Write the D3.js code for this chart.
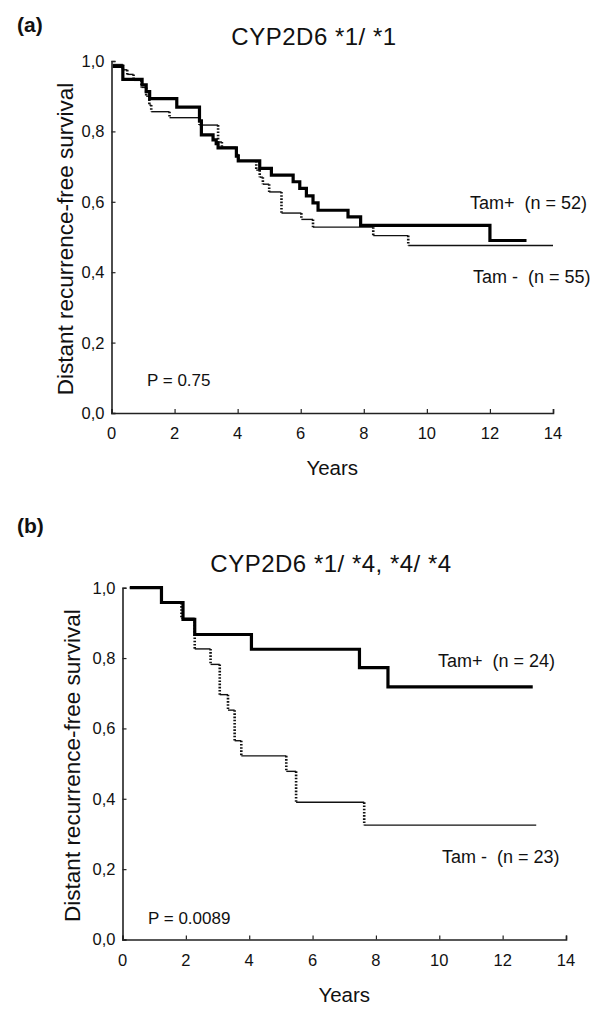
<!DOCTYPE html>
<html><head><meta charset="utf-8">
<script src="https://cdn.jsdelivr.net/npm/d3@7"></script>
<style>
html,body{margin:0;padding:0;background:#fff;}
text{font-family:Arial,"Liberation Sans",Helvetica,sans-serif;fill:#111;white-space:pre;}
</style></head>
<body><svg id="chart" width="600" height="1020"></svg>
<script>
// ---- data ----
const yearTicks = [0, 2, 4, 6, 8, 10, 12, 14];
const survTicks = [0, 0.2, 0.4, 0.6, 0.8, 1.0];
const survTickLabels = ["0,0", "0,2", "0,4", "0,6", "0,8", "1,0"];

// Panel (a) CYP2D6 *1/ *1 : [years, survival]
const tamPlusA = [[0.04,0.985],[0.36,0.948],[0.97,0.932],[1.1,0.913],[1.21,0.893],[2.07,0.869],[2.79,0.83],[2.85,0.79],[3.22,0.776],[3.32,0.765],[3.38,0.753],[3.96,0.73],[4.02,0.716],[4.70,0.695],[5.07,0.676],[5.76,0.657],[5.97,0.638],[6.18,0.617],[6.39,0.597],[6.55,0.576],[7.5,0.557],[7.9,0.533],[12.0,0.490],[13.16,0.490]];
const tamMinusA = [[0.04,0.99],[0.36,0.975],[0.5,0.962],[0.7,0.945],[0.95,0.925],[1.1,0.9],[1.2,0.875],[1.26,0.856],[1.84,0.839],[2.79,0.818],[3.38,0.77],[3.5,0.755],[3.96,0.735],[4.02,0.716],[4.59,0.69],[4.7,0.67],[4.8,0.65],[5.0,0.628],[5.39,0.568],[6.02,0.55],[6.39,0.528],[8.3,0.504],[9.41,0.476],[14.0,0.476]];

// Panel (b) CYP2D6 *1/ *4, *4/ *4
const tamPlusB = [[0.23,1.0],[1.23,0.958],[1.91,0.91],[2.28,0.867],[4.07,0.825],[7.48,0.773],[8.38,0.718],[12.95,0.718]];
const tamMinusB = [[0.23,1.0],[1.23,0.957],[1.86,0.913],[2.28,0.826],[2.78,0.782],[3.07,0.696],[3.33,0.652],[3.54,0.565],[3.75,0.522],[5.17,0.478],[5.48,0.39],[7.63,0.325],[13.06,0.325]];

const titles = ["CYP2D6 *1/ *1", "CYP2D6 *1/ *4, *4/ *4"];
const panelTags = ["(a)", "(b)"];
const pValues = ["P = 0.75", "P = 0.0089"];
const plusLabels = ["Tam+  (n = 52)", "Tam+  (n = 24)"];
const minusLabels = ["Tam -  (n = 55)", "Tam -  (n = 23)"];

// ---- layout ----
const panels = [
  {left:111.5, right:553, top:61, bottom:413, plus:tamPlusA, minus:tamMinusA,
   tagY:32, titleX:314, titleY:45, ylabX:73, pX:147, pY:386,
   plusX:470, plusY:209, minusX:473, minusY:283},
  {left:122.5, right:566, top:587.7, bottom:939.5, plus:tamPlusB, minus:tamMinusB,
   tagY:533, titleX:331, titleY:572, ylabX:80, pX:148, pY:924,
   plusX:438, plusY:667, minusX:442, minusY:863}
];

const svg = d3.select("#chart");

panels.forEach((p, i) => {
  const x = d3.scaleLinear().domain([0, 14]).range([p.left, p.right]);
  const y = d3.scaleLinear().domain([0, 1]).range([p.bottom, p.top]);
  const g = svg.append("g");

  // axes
  const xa = g.append("g").attr("transform", `translate(0,${p.bottom})`)
    .call(d3.axisTop(x).tickValues(yearTicks).tickSize(4).tickFormat(""));
  const ya = g.append("g").attr("transform", `translate(${p.left},0)`)
    .call(d3.axisRight(y).tickValues(survTicks).tickSize(4).tickFormat(""));
  [xa, ya].forEach(a => {
    a.select(".domain").attr("stroke", "#222").attr("stroke-width", 1.6);
    a.selectAll(".tick line").attr("stroke", "#222").attr("stroke-width", 1.2);
  });
  // tick labels
  g.selectAll(".xl").data(yearTicks).join("text")
    .attr("x", d => x(d)).attr("y", p.bottom + 26)
    .attr("text-anchor", "middle").attr("font-size", 16.5).text(d => d);
  g.selectAll(".yl").data(survTicks).join("text")
    .attr("x", p.left - 7).attr("y", d => y(d)).attr("dy", "0.36em")
    .attr("text-anchor", "end").attr("font-size", 16.5)
    .text((d, k) => survTickLabels[k]);

  // axis titles
  g.append("text").attr("x", (p.left + p.right) / 2).attr("y", p.bottom + 62)
    .attr("text-anchor", "middle").attr("font-size", 20.5).text("Years");
  g.append("text")
    .attr("transform", `translate(${p.ylabX},${(p.top + p.bottom) / 2 + 2}) rotate(-90)`)
    .attr("text-anchor", "middle").attr("font-size", 22.5)
    .text("Distant recurrence-free survival");

  // titles
  g.append("text").attr("x", 17).attr("y", p.tagY).attr("font-size", 21)
    .attr("font-weight", "bold").text(panelTags[i]);
  g.append("text").attr("x", p.titleX).attr("y", p.titleY).attr("text-anchor", "middle")
    .attr("font-size", 24).attr("letter-spacing", 0.5).text(titles[i]);

  // annotations
  g.append("text").attr("x", p.pX).attr("y", p.pY).attr("font-size", 17).text(pValues[i]);
  g.append("text").attr("x", p.plusX).attr("y", p.plusY).attr("font-size", 18).text(plusLabels[i]);
  g.append("text").attr("x", p.minusX).attr("y", p.minusY).attr("font-size", 18).text(minusLabels[i]);

  // Tam- : thin horizontals, dotted verticals
  const m = p.minus;
  const hSeg = m.slice(0, -1).map((d, k) => [d[0], m[k + 1][0], d[1]]);
  const vSeg = m.slice(1, -1).map((d, k) => [d[0], m[k][1], d[1]]);
  g.selectAll(".mh").data(hSeg).join("line")
    .attr("x1", d => x(d[0])).attr("x2", d => x(d[1]))
    .attr("y1", d => y(d[2])).attr("y2", d => y(d[2]))
    .attr("stroke", "#111").attr("stroke-width", 1.4);
  g.selectAll(".mv").data(vSeg).join("line")
    .attr("x1", d => x(d[0])).attr("x2", d => x(d[0]))
    .attr("y1", d => y(d[1])).attr("y2", d => y(d[2]))
    .attr("stroke", "#111").attr("stroke-width", 2.6).attr("stroke-dasharray", "1.6,1.6");

  // Tam+ : thick step line
  const line = d3.line().x(d => x(d[0])).y(d => y(d[1])).curve(d3.curveStepAfter);
  g.append("path").datum(p.plus).attr("d", line)
    .attr("fill", "none").attr("stroke", "#000").attr("stroke-width", 3.2);
});
</script></body></html>
